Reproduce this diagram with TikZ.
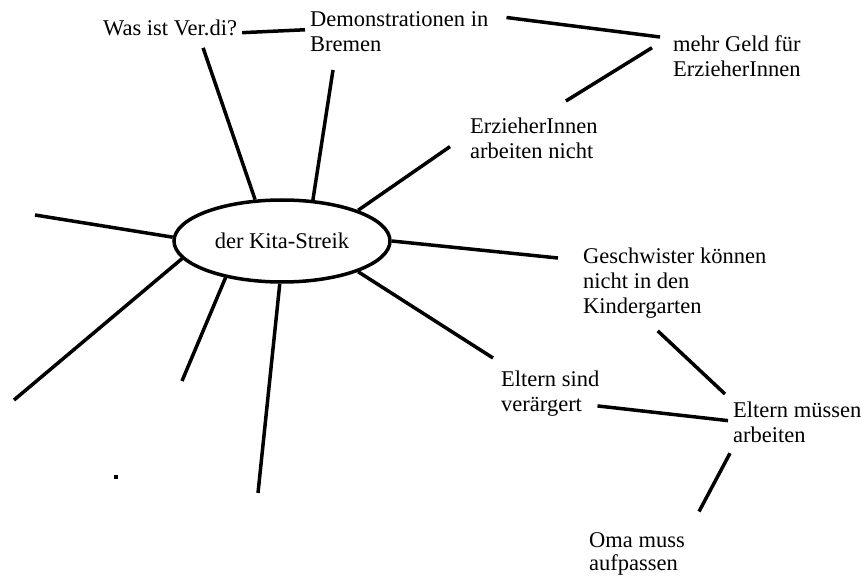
\documentclass[tikz,border=0pt]{standalone}
\usepackage{fontspec}
\setmainfont{Liberation Serif}
\usetikzlibrary{shapes.geometric}

\begin{document}
\begin{tikzpicture}[x=1pt,y=-1pt,txt/.style={anchor=north west,align=left,inner sep=0pt,font=\fontsize{22.5}{25}\selectfont},ln/.style={line width=3.5pt},hub/.style={ellipse,draw,line width=3.5pt,minimum width=216pt,minimum height=82pt,inner sep=0pt,font=\fontsize{22.5}{25}\selectfont}]
\useasboundingbox (0,0) rectangle (867,577);
\node[hub](kita) at (282,241){der Kita-Streik};
\node[txt](was) at (103,19.5){Was ist Ver.di?};
\node[txt](demo) at (310,11.5){Demonstrationen in\\Bremen};
\node[txt](geld) at (673,35){mehr Geld für\\ErzieherInnen};
\node[txt](erz) at (470,118){ErzieherInnen\\arbeiten nicht};
\node[txt](gesch) at (583,248){Geschwister können\\nicht in den\\Kindergarten};
\node[txt](verg) at (501,371){Eltern sind\\verärgert};
\node[txt](muss) at (733,402){Eltern müssen\\arbeiten};
\node[txt,font=\fontsize{22.5}{23}\selectfont](oma) at (589,532.5){Oma muss\\aufpassen};
\node[fill,inner sep=0pt,minimum size=4pt](dot) at (116,477){};
\coordinate (left) at (35,215);
\coordinate (lowleft) at (14,400);
\coordinate (low) at (182,381);
\coordinate (down) at (258,493);
\draw[ln]([xshift=5pt,yshift=-5pt]was.east)--([xshift=-5pt,yshift=2pt]demo.west);
\draw[ln]([xshift=18pt,yshift=-6pt]demo.north east)--([xshift=-13pt,yshift=-2pt]geld.north west);
\draw[ln]([xshift=32pt,yshift=17pt]erz.north)--([xshift=-21pt,yshift=8pt]geld.west);
\draw[ln](kita.123)--([xshift=33pt,yshift=-12pt]was.south);
\draw[ln](kita.53)--([xshift=23pt,yshift=-18pt]demo.south west);
\draw[ln](kita.22)--([xshift=-20pt,yshift=-8pt]erz.west);
\draw[ln](kita.east)--([xshift=-25pt,yshift=-10pt]gesch.north west);
\draw[ln](kita.338)--([xshift=-8pt,yshift=13pt]verg.north west);
\draw[ln]([xshift=-2pt,yshift=-12pt]verg.east)--([xshift=-5pt,yshift=2pt]muss.west);
\draw[ln]([xshift=-17pt,yshift=-12pt]gesch.south)--([xshift=-8pt,yshift=8pt]muss.north west);
\draw[ln]([xshift=-3pt,yshift=-10pt]muss.south west)--([xshift=14pt,yshift=21pt]oma.north east);
\draw[ln](kita.178)--(left);
\draw[ln](kita.190)--(lowleft);
\draw[ln](kita.213)--(low);
\draw[ln](kita.267)--(down);
\end{tikzpicture}
\end{document}
